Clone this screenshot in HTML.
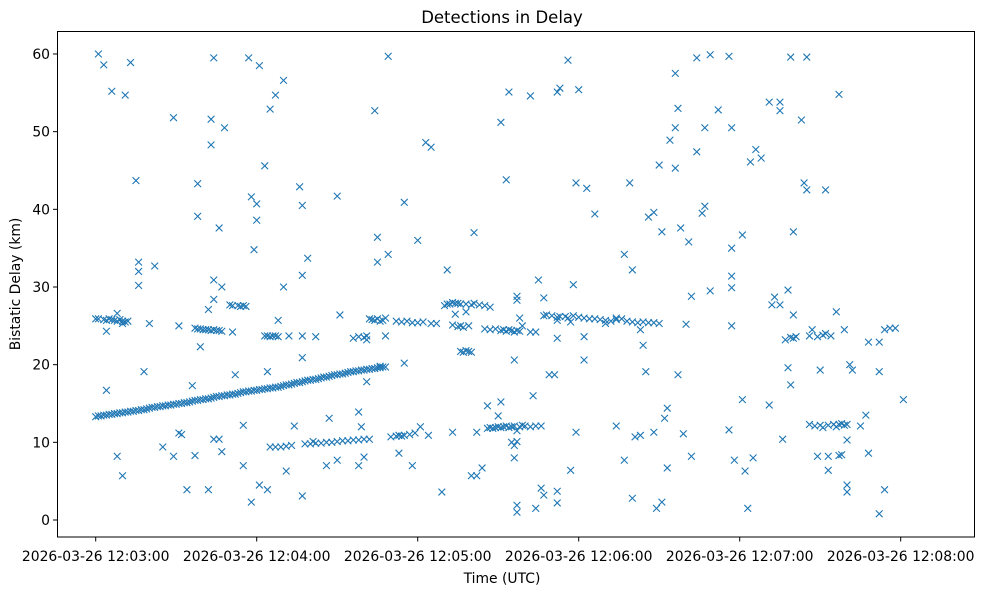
<!DOCTYPE html>
<html><head><meta charset="utf-8"><style>
body{margin:0;background:#fff;}
svg text{font-family:"DejaVu Sans","Liberation Sans",sans-serif;fill:#000;}
</style></head><body>
<svg id="chart" width="984" height="590" xmlns="http://www.w3.org/2000/svg">
<rect width="984" height="590" fill="#fff"/>
<text x="502" y="23" font-size="16.5" text-anchor="middle">Detections in Delay</text>
<text x="502" y="583" font-size="13.9" text-anchor="middle">Time (UTC)</text>
<text x="20" y="284" font-size="13.9" text-anchor="middle" transform="rotate(-90 20 284)">Bistatic Delay (km)</text>
<g id="marks"></g>
<g id="axes"></g>
<rect x="57.5" y="31.5" width="917" height="505.5" fill="none" stroke="#000" stroke-width="1"/>
</svg>
<script>
const xTicks=[0,60,120,180,240,300];
const xTickLabels=["2026-03-26 12:03:00","2026-03-26 12:04:00","2026-03-26 12:05:00","2026-03-26 12:06:00","2026-03-26 12:07:00","2026-03-26 12:08:00"];
const yTicks=[0,10,20,30,40,50,60];
const trackRise=[[0,13.3],[2,13.4],[4,13.5],[6,13.6],[8,13.7],[10,13.8],[12,13.9],[14,14.0],[16,14.1],[18,14.2],[20,14.4],[22,14.5],[24,14.6],[26,14.7],[28,14.8],[30,14.9],[32,15.0],[34,15.1],[36,15.3],[38,15.4],[40,15.5],[42,15.6],[44,15.8],[46,15.9],[48,16.0],[50,16.1],[52,16.2],[54,16.4],[56,16.5],[58,16.6],[60,16.7],[62,16.8],[64,16.9],[66,17.0],[68,17.1],[70,17.3],[72,17.4],[74,17.6],[76,17.7],[78,17.9],[80,18.0],[82,18.1],[84,18.3],[86,18.4],[88,18.6],[90,18.7],[92,18.8],[94,19.0],[96,19.1],[98,19.2],[100,19.3],[102,19.4],[104,19.5],[106,19.6],[108,19.7]];
const trackRiseOdd=[[1,13.4],[3,13.5],[5,13.6],[7,13.7],[9,13.8],[11,13.9],[13,14.0],[15,14.1],[17,14.2],[19,14.3],[21,14.5],[23,14.6],[25,14.7],[27,14.8],[29,14.9],[31,15.0],[33,15.1],[35,15.2],[37,15.4],[39,15.5],[41,15.6],[43,15.7],[45,15.9],[47,16.0],[49,16.1],[51,16.2],[53,16.3],[55,16.5],[57,16.6],[59,16.7],[61,16.8],[63,16.9],[65,17.0],[67,17.1],[69,17.2],[71,17.4],[73,17.5],[75,17.7],[77,17.8],[79,18.0],[81,18.1],[83,18.2],[85,18.4],[87,18.5],[89,18.7],[91,18.8],[93,18.9],[95,19.1],[97,19.2],[99,19.3],[101,19.4],[103,19.5],[105,19.6],[107,19.7]];
const trackUpper=[[0,25.9],[1,25.9],[3,25.8],[4,25.7],[5,25.9],[6,25.8],[7,25.7],[8,25.6],[9,25.8],[10,25.6],[11,25.5],[12,25.6],[4,24.3],[8,26.6],[10,25.3],
[37,24.7],[38,24.6],[39,24.6],[40,24.5],[41,24.5],[42,24.5],[43,24.4],[44,24.5],[45,24.4],[46,24.4],[47,24.3],[51,24.2],
[50,27.7],[51,27.6],[53,27.6],[54,27.5],[55,27.6],[56,27.5],
[63,23.7],[64,23.7],[65,23.6],[66,23.7],[67,23.7],[68,23.6],
[96,23.4],[98,23.6],[100,23.5],[101,23.7],[102,25.9],[103,25.8],[104,25.7],[105,25.9],[106,25.6],[107,25.7],[108,26.0],[101,23.2],
[112,25.6],[114,25.5],[116,25.6],[118,25.4],[120,25.4],[122,25.5],[125,25.3],[127,25.3],
[130,27.6],[131,27.8],[132,27.8],[133,28.0],[134,27.9],[135,27.9],[136,27.8],[138,27.8],[140,27.7],[141,27.9],[143,27.7],[145,27.6],[147,27.4],
[133,25.1],[135,24.9],[136,25.0],[137,24.8],[139,25.0],[138,26.8],[134,26.5],
[136,21.7],[137,21.6],[138,21.8],[139,21.7],[140,21.6],
[145,24.6],[147,24.5],[149,24.6],[151,24.4],[152,24.5],[153,24.3],[154,24.5],[155,24.4],[156,24.2],[157,24.4],[158,24.3],[159,25.0],[162,24.2],[164,24.2],[158,26.0],
[167,26.3],[168,26.4],[170,26.3],[172,26.1],[173,26.2],[175,26.2],[176,26.0],[178,26.3],[180,26.1],[182,26.0],[184,25.9],[186,25.9],[188,25.8],[190,25.7],[192,25.6],[194,26.0],[196,25.9],[198,25.6],[200,25.5],[202,25.4],[204,25.5],[206,25.4],[208,25.4],[210,25.3],[172,25.7],[177,25.5],[190,25.3],[194,25.8],
[257,23.2],[259,23.5],[260,23.4],[261,23.6],[269,23.6],[271,23.8],[272,24.0],[274,23.7],[266,23.7]];
const trackLower=[[65,9.4],[67,9.4],[69,9.4],[71,9.5],[73,9.6],[78,9.8],[80,9.8],[82,9.9],[84,9.9],[86,10.0],[88,10.0],[90,10.1],[92,10.2],[94,10.2],[96,10.3],[98,10.3],[100,10.4],[102,10.4],[81,10.1],
[112,10.8],[113,10.9],[114,10.8],[115,10.9],[117,11.0],[119,11.2],
[146,11.8],[147,11.9],[148,11.8],[149,11.9],[150,12.0],[151,11.9],[152,12.0],[153,12.1],[154,11.9],[155,12.0],[156,12.1],[157,11.5],[158,12.0],[159,12.2],[160,12.1],[162,12.0],[164,12.1],[166,12.1],[155,10.0],[156,9.6],[157,10.1],
[266,12.3],[268,12.1],[270,12.2],[271,11.9],[273,12.2],[275,12.3],[276,12.0],[277,12.3],[278,12.4],[279,12.2],[280,12.3],[277,8.3],[278,8.4]];
const scatter=[[1,60],[3,58.6],[6,55.2],[8,8.2],[4,16.7],[10,5.7],[11,54.7],[13,58.9],[15,43.7],[16,33.2],[16,32],[16,30.2],[18,19.1],[20,25.3],[22,32.7],[25,9.4],[29,51.8],[29,8.2],[31,25],[31,11.2],[32,11],[34,3.9],[36,17.3],[37,8.3],[38,43.3],[38,39.1],[39,22.3],[42,27.1],[42,3.9],[43,51.6],[43,48.3],[44,59.5],[44,28.4],[44,30.9],[44,10.4],[46,37.6],[46,10.4],[47,8.8],[48,50.5],[47,30.0],[52,18.7],[55,12.2],[55,7],[57,59.5],[58,41.6],[58,2.3],[59,34.8],[60,38.6],[60,40.7],[61,58.5],[61,4.5],[63,45.6],[64,3.9],[64,19.1],[65,52.9],[67,54.7],[68,25.7],[70,56.6],[70,30],[71,6.3],[72,23.7],[74,12.1],[76,42.9],[77,23.7],[77,31.5],[77,3.1],[77,40.5],[77,20.9],[79,33.7],[82,23.6],[86,7],[87,13.1],[90,41.7],[91,26.4],[90,7.7],[98,7],[98,13.9],[100,8.1],[99,12],[101,17.8],[104,52.7],[105,36.4],[105,33.2],[106,19.8],[108,23.7],[109,34.2],[109,59.7],[110,10.7],[113,8.6],[115,40.9],[115,20.2],[118,7],[120,36],[121,12],[123,48.6],[124,10.9],[125,48],[129,3.6],[131,32.2],[133,11.3],[140,5.7],[141,37],[142,5.7],[142,11.3],[144,6.7],[146,14.7],[150,13.4],[151,15.2],[151,51.2],[153,43.8],[154,55.1],[156,20.6],[156,8],[157,1.9],[157,1.0],[157,28.3],[157,28.8],[162,54.6],[163,16],[164,1.5],[165,30.9],[166,4.1],[167,28.6],[167,3.2],[169,18.7],[171,18.7],[172,23.4],[172,55.1],[172,2.2],[172,3.7],[173,55.6],[176,59.2],[177,6.4],[178,30.3],[179,11.3],[179,43.4],[180,55.4],[182,20.6],[182,23.6],[183,42.7],[186,39.4],[194,12.1],[197,34.2],[197,7.7],[199,43.4],[200,2.8],[200,32.2],[201,10.7],[203,10.9],[203,24.5],[204,22.5],[205,19.1],[206,39],[208,39.6],[208,11.3],[209,1.5],[210,45.7],[211,37.1],[211,2.3],[212,13.1],[213,14.4],[213,6.7],[214,48.9],[216,45.3],[216,57.5],[216,50.5],[217,53],[217,18.7],[218,37.6],[219,11.1],[220,25.2],[221,35.8],[222,28.8],[222,8.2],[224,47.4],[224,59.5],[226,39.5],[227,50.5],[227,40.4],[229,29.5],[229,59.9],[232,52.8],[236,59.7],[236,11.6],[237,35],[237,31.4],[237,29.9],[237,25],[237,50.5],[238,7.7],[241,15.5],[241,36.7],[242,6.3],[243,1.5],[244,46.1],[245,8],[246,47.7],[248,46.6],[251,53.8],[251,14.8],[252,27.7],[253,28.7],[255,27.7],[255,53.8],[255,52.7],[256,10.4],[258,29.6],[258,19.6],[259,17.4],[259,59.6],[260,26.4],[260,37.1],[263,51.5],[264,43.4],[265,42.5],[265,59.6],[267,24.5],[269,8.2],[270,19.3],[272,42.5],[273,6.4],[273,8.2],[276,26.8],[277,54.8],[279,24.5],[280,10.3],[280,4.5],[280,3.6],[281,20],[282,19.3],[285,12.1],[287,13.5],[288,22.9],[288,8.6],[292,19.1],[292,0.8],[292,22.9],[294,24.5],[294,3.9],[296,24.7],[298,24.7],[301,15.5]];

const NS="http://www.w3.org/2000/svg";
function xScale(s){return 95.7+s*161/60;}
function yScale(d){return 520-d*7.767;}
const marks=document.getElementById('marks');
const axes=document.getElementById('axes');
const C="#1f77b4";
function drawX(p){
  const cx=xScale(p[0]),cy=yScale(p[1]),r=3.4;
  const path=document.createElementNS(NS,'path');
  path.setAttribute('d',`M${cx-r},${cy-r}L${cx+r},${cy+r}M${cx-r},${cy+r}L${cx+r},${cy-r}`);
  path.setAttribute('stroke',C);path.setAttribute('stroke-width','1.1');path.setAttribute('fill','none');
  
  
  marks.appendChild(path);
}
[trackRise,trackRiseOdd,trackUpper,trackLower,scatter].forEach(a=>a.forEach(drawX));
xTicks.forEach((t,i)=>{
  const x=xScale(t);
  const l=document.createElementNS(NS,'line');
  l.setAttribute('x1',x);l.setAttribute('x2',x);l.setAttribute('y1',537);l.setAttribute('y2',541.5);l.setAttribute('stroke','#000');
  
  
  axes.appendChild(l);
  const tx=document.createElementNS(NS,'text');
  tx.setAttribute('x',x);tx.setAttribute('y',561);tx.setAttribute('font-size','13.9');tx.setAttribute('text-anchor','middle');
  tx.textContent=xTickLabels[i];
  
  
  axes.appendChild(tx);
});
yTicks.forEach(v=>{
  const y=yScale(v);
  const l=document.createElementNS(NS,'line');
  l.setAttribute('x1',53);l.setAttribute('x2',57.5);l.setAttribute('y1',y);l.setAttribute('y2',y);l.setAttribute('stroke','#000');
  
  
  axes.appendChild(l);
  const tx=document.createElementNS(NS,'text');
  tx.setAttribute('x',50);tx.setAttribute('y',y+5);tx.setAttribute('font-size','13.9');tx.setAttribute('text-anchor','end');
  tx.textContent=String(v);
  
  
  axes.appendChild(tx);
});
</script>
</body></html>
